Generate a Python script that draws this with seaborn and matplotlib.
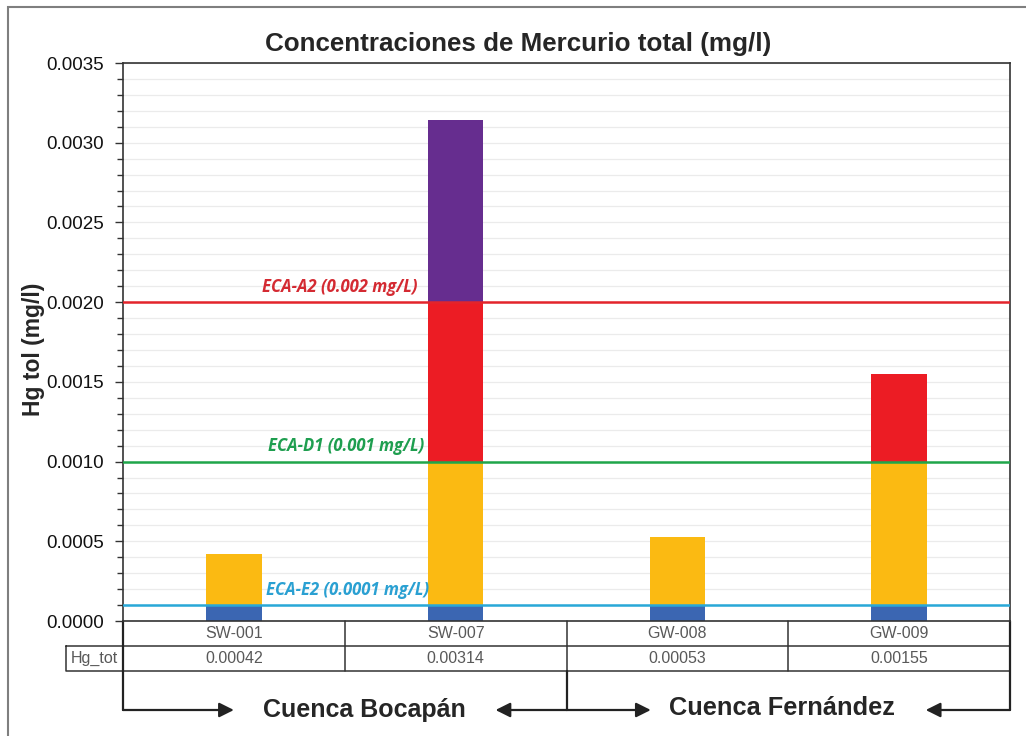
import numpy as np
import pandas as pd
import matplotlib
matplotlib.use("Agg")
import matplotlib.pyplot as plt
import matplotlib.transforms as mtransforms
from matplotlib.patches import Rectangle
from matplotlib.ticker import MultipleLocator, FormatStrFormatter
import seaborn as sns

# data
samples = ["SW-001", "SW-007", "GW-008", "GW-009"]
hg_tot = [0.00042, 0.00314, 0.00053, 0.00155]
cuencas = ["Cuenca Bocapán", "Cuenca Fernández"]

# ECA limits (mg/L)
eca_names = ["ECA-A2 (0.002 mg/L)", "ECA-D1 (0.001 mg/L)", "ECA-E2 (0.0001 mg/L)"]
eca_values = [0.002, 0.001, 0.0001]
eca_colors = ["#e3242b", "#1fa64a", "#28a8d8"]
eca_text_colors = ["#d42a32", "#1e9e4f", "#2aa0d2"]

# stack colours from top band down
band_limits = [None, 0.002, 0.001, 0.0001]
band_colors = ["#662d8f", "#ec1c24", "#fbba12", "#3b66b2"]

sns.set_theme(style="white")
plt.rcParams["font.family"] = ["Liberation Sans", "DejaVu Sans"]

fig = plt.figure(figsize=(10.26, 7.36), dpi=100)
ax = fig.add_axes([123 / 1026, 1 - 621 / 736, 887 / 1026, 558 / 736])

df = pd.DataFrame({"muestra": samples, "hg": hg_tot})

# stacked look: draw the full bar, then overlay the capped parts
for lim, col in zip(band_limits, band_colors):
    vals = df["hg"] if lim is None else np.minimum(df["hg"], lim)
    sns.barplot(x=df["muestra"], y=vals, color=col, width=0.25,
                linewidth=0, saturation=1, order=samples, ax=ax, zorder=2)

ax.set_xlim(-0.5, len(samples) - 0.5)
ax.set_ylim(0, 0.0035)
ax.yaxis.set_major_locator(MultipleLocator(0.0005))
ax.yaxis.set_minor_locator(MultipleLocator(0.0001))
ax.yaxis.set_major_formatter(FormatStrFormatter("%.4f"))
ax.tick_params(axis="y", which="major", left=True, length=6, width=1,
               color="#333333", labelsize=13.5, labelcolor="#111111", pad=8)
ax.tick_params(axis="y", which="minor", left=True, length=4, width=1, color="#333333")
ax.tick_params(axis="x", bottom=False, labelbottom=False)
ax.yaxis.grid(True, which="both", color="#ebebeb", lw=0.9)
ax.set_axisbelow(True)
ax.set_xlabel("")
ax.set_ylabel("Hg tol (mg/l)", fontsize=16.5, fontweight="bold")
ax.yaxis.set_label_coords(-(123 - 45) / 887, 0.486)
for side in ["left", "top", "right", "bottom"]:
    ax.spines[side].set_visible(True)
    ax.spines[side].set_color("#333333")
    ax.spines[side].set_linewidth(1.2)

fig.text(518 / 1026, 1 - 44 / 736, "Concentraciones de Mercurio total (mg/l)",
         ha="center", va="center", fontsize=18.7, fontweight="bold")

# ECA reference lines
label_x = [0.83, 0.86, 0.88]
for name, val, lc, tc, lx in zip(eca_names, eca_values, eca_colors,
                                 eca_text_colors, label_x):
    ax.axhline(val, color=lc, lw=1.8, zorder=3)
    ax.text(lx, val + 0.00004, name, ha="right", va="bottom", color=tc,
            fontsize=12, fontstyle="italic", fontweight="bold",
            family=["Open Sans", "DejaVu Sans"], zorder=4)

# table under the axis
trans = mtransforms.blended_transform_factory(ax.transData, ax.transAxes)
row_h = 25 / 558
line_kw = dict(color="#333333", lw=1.1, transform=trans, clip_on=False)
x0, x1 = -0.5, len(samples) - 0.5
for k in range(1, 3):
    ax.plot([x0, x1], [-k * row_h, -k * row_h], **line_kw)
for i in range(len(samples) + 1):
    ax.plot([i - 0.5, i - 0.5], [0, -2 * row_h], **line_kw)
for i, (s, v) in enumerate(zip(samples, hg_tot)):
    ax.text(i, -0.5 * row_h, s, ha="center", va="center", fontsize=11.5,
            color="#595959", transform=trans)
    ax.text(i, -1.5 * row_h, f"{v:.5f}", ha="center", va="center",
            fontsize=11.5, color="#595959", transform=trans)

# Hg_tot label box
lab_w = 57 / 221.75
ax.plot([x0 - lab_w, x0, x0, x0 - lab_w, x0 - lab_w],
        [-row_h, -row_h, -2 * row_h, -2 * row_h, -row_h], **line_kw)
ax.text(x0 - lab_w / 2, -1.5 * row_h, "Hg_tot", ha="center", va="center",
        fontsize=11.5, color="#595959", transform=trans)

# basin brackets with arrows
arr_y = -89 / 558
brk_kw = dict(color="#222222", lw=1.6, transform=trans, clip_on=False)
for xv, ytop in [(x0, 0), (1.5, -2 * row_h), (x1, 0)]:
    ax.plot([xv, xv], [ytop, arr_y], **brk_kw)
arrows = [(x0, 0.0), (1.5, 1.18), (1.5, 1.88), (x1, 3.12)]
for tail, tip in arrows:
    ax.annotate("", xy=(tip, arr_y), xytext=(tail, arr_y),
                xycoords=trans, textcoords=trans, annotation_clip=False,
                arrowprops=dict(arrowstyle="-|>", mutation_scale=22,
                                color="#222222", lw=1.6, shrinkA=0, shrinkB=0))
ax.text(0.59, arr_y, cuencas[0], ha="center", va="center", fontsize=18,
        fontweight="bold", transform=trans)
ax.text(2.47, arr_y + 0.004, cuencas[1], ha="center", va="center", fontsize=18.3,
        fontweight="bold", transform=trans)

# outer frame
fig.patches.append(Rectangle((8 / 1026, -0.02), 1.02, 1 - 7 / 736 + 0.02,
                             transform=fig.transFigure, fill=False,
                             edgecolor="#7f7f7f", lw=1.5))

fig.savefig("out.png", dpi=100)
